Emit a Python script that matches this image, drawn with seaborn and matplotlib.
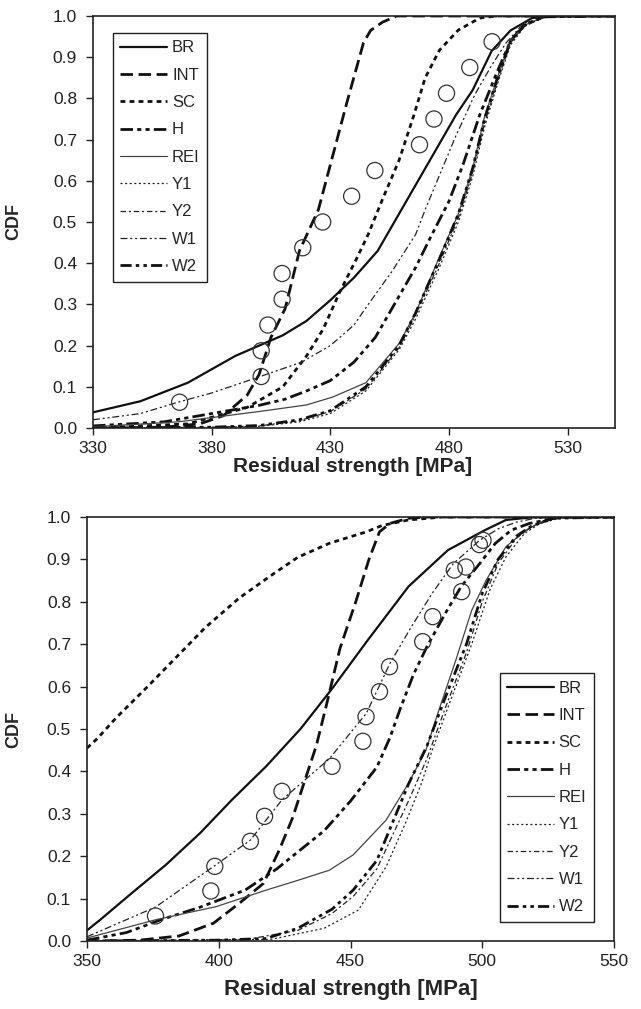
import matplotlib
matplotlib.use("Agg")
import matplotlib.pyplot as plt
import seaborn as sns
import numpy as np

# ---------------- data: top panel ----------------
t_br_x = [330, 350, 370, 390, 400, 410, 420, 430, 440, 450, 455, 463, 470, 476, 483, 490, 498, 506, 515, 525, 550]
t_br_y = [0.038, 0.065, 0.11, 0.175, 0.20, 0.225, 0.26, 0.31, 0.365, 0.43, 0.48, 0.56, 0.63, 0.69, 0.76, 0.82, 0.915, 0.965, 0.995, 1.0, 1.0]

t_int_x = [330, 360, 375, 385, 395, 400, 405, 411, 417, 425, 431, 437, 444, 447, 452, 458, 550]
t_int_y = [0.0, 0.002, 0.01, 0.03, 0.08, 0.13, 0.22, 0.29, 0.43, 0.53, 0.66, 0.79, 0.935, 0.965, 0.985, 1.0, 1.0]

t_sc_x = [330, 370, 395, 410, 420, 427, 434, 441, 446, 452, 459, 465, 470, 476, 484, 493, 500, 550]
t_sc_y = [0.0, 0.01, 0.05, 0.10, 0.175, 0.24, 0.33, 0.41, 0.47, 0.555, 0.65, 0.755, 0.85, 0.917, 0.966, 0.995, 1.0, 1.0]

t_h_x = [330, 360, 380, 400, 411, 420, 430, 440, 449, 459, 466, 472, 480, 486, 493, 500, 506, 512, 520, 530, 550]
t_h_y = [0.005, 0.015, 0.035, 0.055, 0.07, 0.09, 0.115, 0.16, 0.22, 0.32, 0.39, 0.46, 0.55, 0.64, 0.76, 0.86, 0.94, 0.98, 0.998, 1.0, 1.0]

t_rei_x = [330, 366, 400, 420, 431, 445, 459, 466, 476, 484, 490, 495, 501, 506, 512, 520, 550]
t_rei_y = [0.003, 0.015, 0.04, 0.056, 0.075, 0.11, 0.205, 0.28, 0.415, 0.52, 0.63, 0.755, 0.86, 0.94, 0.978, 0.998, 1.0]

t_y1_x = [330, 380, 400, 417, 430, 445, 459, 466, 476, 484, 490, 495, 501, 506, 512, 520, 550]
t_y1_y = [0.0, 0.001, 0.004, 0.015, 0.035, 0.09, 0.19, 0.265, 0.39, 0.50, 0.61, 0.73, 0.845, 0.93, 0.975, 0.997, 1.0]

t_y2_x = [330, 380, 400, 417, 430, 445, 459, 466, 476, 484, 490, 495, 501, 506, 512, 520, 550]
t_y2_y = [0.0, 0.002, 0.005, 0.018, 0.04, 0.095, 0.195, 0.275, 0.40, 0.51, 0.62, 0.74, 0.85, 0.935, 0.977, 0.998, 1.0]

t_w1_x = [330, 350, 366, 380, 400, 418, 430, 440, 446, 456, 466, 470, 483, 491, 498, 504, 510, 515, 525, 550]
t_w1_y = [0.02, 0.035, 0.063, 0.085, 0.124, 0.16, 0.20, 0.25, 0.30, 0.38, 0.47, 0.53, 0.71, 0.81, 0.88, 0.934, 0.973, 0.995, 1.0, 1.0]

t_w2_x = [330, 380, 400, 417, 430, 445, 459, 466, 476, 484, 490, 495, 501, 506, 512, 520, 550]
t_w2_y = [0.0, 0.002, 0.006, 0.02, 0.042, 0.10, 0.20, 0.28, 0.41, 0.52, 0.63, 0.75, 0.86, 0.94, 0.978, 0.998, 1.0]

t_obs_x = [366.5, 400.9, 400.9, 403.7, 409.7, 409.7, 418.4, 426.8, 439.0, 448.8, 467.6, 473.7, 479.0, 488.8, 498.2]
t_obs_y = [0.0625, 0.125, 0.1875, 0.25, 0.3125, 0.375, 0.4375, 0.5, 0.5625, 0.625, 0.6875, 0.75, 0.8125, 0.875, 0.9375]

# ---------------- data: bottom panel ----------------
b_br_x = [350, 355, 367, 380, 393, 405, 418, 431, 443, 456, 472, 487, 501, 509, 520, 550]
b_br_y = [0.025, 0.05, 0.113, 0.18, 0.255, 0.333, 0.412, 0.50, 0.595, 0.705, 0.836, 0.922, 0.969, 0.993, 1.0, 1.0]

b_int_x = [350, 370, 385, 398, 408, 417, 423, 428, 433, 437, 441, 446, 452, 457, 461, 465, 472, 480, 550]
b_int_y = [0.0, 0.002, 0.012, 0.042, 0.09, 0.136, 0.215, 0.29, 0.385, 0.46, 0.56, 0.69, 0.80, 0.90, 0.965, 0.985, 0.997, 1.0, 1.0]

b_sc_x = [350, 354, 361, 373, 384, 395, 408, 421, 430, 442, 456, 462, 472, 485, 550]
b_sc_y = [0.455, 0.478, 0.526, 0.60, 0.67, 0.74, 0.81, 0.867, 0.905, 0.938, 0.965, 0.98, 0.993, 1.0, 1.0]

b_h_x = [350, 365, 378, 393, 410, 422, 431, 440, 450, 460, 465, 469, 474, 479, 486, 492, 499, 505, 511, 518, 530, 550]
b_h_y = [0.002, 0.02, 0.05, 0.08, 0.12, 0.17, 0.215, 0.26, 0.33, 0.41, 0.48, 0.55, 0.63, 0.694, 0.773, 0.836, 0.89, 0.938, 0.969, 0.985, 1.0, 1.0]

b_rei_x = [350, 376, 399, 418, 431, 442, 451, 463.5, 472, 478.6, 484, 490, 496, 501.4, 509, 516.5, 523, 530, 550]
b_rei_y = [0.007, 0.05, 0.081, 0.12, 0.145, 0.167, 0.203, 0.285, 0.372, 0.45, 0.553, 0.663, 0.78, 0.85, 0.93, 0.969, 0.99, 1.0, 1.0]

b_y1_x = [350, 420, 440, 453, 463.5, 471, 477, 481, 488, 496, 503, 509, 516, 522, 530, 550]
b_y1_y = [0.0, 0.004, 0.03, 0.073, 0.175, 0.28, 0.373, 0.45, 0.568, 0.70, 0.83, 0.906, 0.961, 0.985, 0.998, 1.0]

b_y2_x = [350, 410, 430, 443, 451, 460, 466, 472, 479, 486, 494, 500, 506, 513, 519, 527, 550]
b_y2_y = [0.0, 0.003, 0.025, 0.065, 0.105, 0.17, 0.25, 0.33, 0.43, 0.55, 0.68, 0.80, 0.89, 0.95, 0.978, 0.996, 1.0]

b_w1_x = [350, 376, 399, 412, 424, 442, 456, 465, 473, 481, 489, 499, 506, 513, 520, 550]
b_w1_y = [0.01, 0.08, 0.18, 0.238, 0.333, 0.43, 0.537, 0.655, 0.74, 0.82, 0.89, 0.945, 0.972, 0.988, 0.997, 1.0]

b_w2_x = [350, 400, 418, 430, 443, 451, 460, 466, 472, 479, 486, 494, 500, 506, 513, 519, 527, 550]
b_w2_y = [0.0, 0.002, 0.006, 0.03, 0.075, 0.12, 0.19, 0.28, 0.37, 0.46, 0.575, 0.70, 0.82, 0.90, 0.955, 0.98, 0.997, 1.0]

b_obs_x = [376.0, 397.0, 398.5, 412.0, 417.4, 424.0, 443.0, 454.7, 455.9, 461.0, 464.8, 477.4, 481.2, 492.2, 489.4, 493.8, 498.9, 500.3]
b_obs_y = [0.059, 0.118, 0.176, 0.235, 0.294, 0.353, 0.412, 0.471, 0.529, 0.588, 0.647, 0.706, 0.765, 0.824, 0.875, 0.882, 0.935, 0.945]

series_names = ["BR", "INT", "SC", "H", "REI", "Y1", "Y2", "W1", "W2"]
top_ticks = [330, 380, 430, 480, 530]
bot_ticks = [350, 400, 450, 500, 550]
y_ticks = [0.0, 0.1, 0.2, 0.3, 0.4, 0.5, 0.6, 0.7, 0.8, 0.9, 1.0]

top_series = [(t_br_x, t_br_y), (t_int_x, t_int_y), (t_sc_x, t_sc_y), (t_h_x, t_h_y),
              (t_rei_x, t_rei_y), (t_y1_x, t_y1_y), (t_y2_x, t_y2_y), (t_w1_x, t_w1_y), (t_w2_x, t_w2_y)]
bot_series = [(b_br_x, b_br_y), (b_int_x, b_int_y), (b_sc_x, b_sc_y), (b_h_x, b_h_y),
              (b_rei_x, b_rei_y), (b_y1_x, b_y1_y), (b_y2_x, b_y2_y), (b_w1_x, b_w1_y), (b_w2_x, b_w2_y)]

# ---------------- styles ----------------
styles = {
    "BR":  dict(linewidth=1.6, linestyle="-", color="#111111"),
    "INT": dict(linewidth=2.0, linestyle=(0, (9, 4)), color="#111111"),
    "SC":  dict(linewidth=2.0, linestyle=(0, (3.5, 3)), color="#111111"),
    "H":   dict(linewidth=2.0, linestyle=(0, (9, 3, 3, 3, 3, 3)), color="#111111"),
    "REI": dict(linewidth=0.9, linestyle="-", color="#444444"),
    "Y1":  dict(linewidth=0.9, linestyle=(0, (1.5, 1.8)), color="#222222"),
    "Y2":  dict(linewidth=0.9, linestyle=(0, (4, 2, 1.5, 2)), color="#222222"),
    "W1":  dict(linewidth=0.9, linestyle=(0, (5, 2, 1.5, 2, 1.5, 2)), color="#222222"),
    "W2":  dict(linewidth=2.0, linestyle=(0, (8, 3, 2.5, 3, 2.5, 3)), color="#111111"),
}

sns.set_style("ticks")
plt.rcParams["font.family"] = ["Liberation Sans", "DejaVu Sans"]
plt.rcParams["lines.scale_dashes"] = False

fig = plt.figure(figsize=(6.41, 10.09), dpi=100)
ax1 = fig.add_axes([93 / 641, 1 - 428 / 1009, 522 / 641, 412 / 1009])
ax2 = fig.add_axes([87 / 641, 1 - 941 / 1009, 527 / 641, 424 / 1009])


def draw(ax, series, obs_x, obs_y, xticks, xlim):
    for name, (xs, ys) in zip(series_names, series):
        sns.lineplot(x=xs, y=ys, ax=ax, label=name, errorbar=None, **styles[name])
    sns.scatterplot(x=obs_x, y=obs_y, ax=ax, s=135, facecolors="none",
                    edgecolor="#333333", linewidth=0.9, zorder=5, legend=False)
    ax.set_xlim(*xlim)
    ax.set_ylim(0, 1)
    ax.set_xticks(xticks)
    ax.set_xticklabels([str(t) for t in xticks])
    ax.set_yticks(y_ticks)
    ax.set_yticklabels([f"{v:.1f}" for v in y_ticks])
    ax.tick_params(direction="out", length=5, width=1, labelsize=12.5, colors="#222222")
    ax.tick_params(axis="x", pad=4.5)
    ax.tick_params(axis="y", pad=6.5)
    for sp in ax.spines.values():
        sp.set_visible(True)
        sp.set_color("#222222")
        sp.set_linewidth(1.2)
    ax.grid(False)


draw(ax1, top_series, t_obs_x, t_obs_y, top_ticks, (330, 550))
draw(ax2, bot_series, b_obs_x, b_obs_y, bot_ticks, (350, 550))

ax1.set_xlabel("Residual strength [MPa]", fontsize=15, fontweight="bold")
ax1.set_ylabel("CDF", fontsize=13, fontweight="bold")
ax1.xaxis.set_label_coords(0.498, -0.07)
ax1.yaxis.set_label_coords(-0.136, 0.5)

ax2.set_xlabel("Residual strength [MPa]", fontsize=16, fontweight="bold")
ax2.set_ylabel("CDF", fontsize=13, fontweight="bold")
ax2.xaxis.set_label_coords(0.5, -0.09)
ax2.yaxis.set_label_coords(-0.123, 0.5)

leg_kw = dict(fontsize=12, frameon=True, fancybox=False, shadow=False, framealpha=1,
              edgecolor="#222222", handlelength=2.8, handletextpad=0.3,
              labelspacing=0.74, borderpad=0.45, borderaxespad=0)
lg1 = ax1.legend(loc="upper left", bbox_to_anchor=(0.038, 0.959), **leg_kw)
lg2 = ax2.legend(loc="lower right", bbox_to_anchor=(0.962, 0.045), **leg_kw)
for lg in (lg1, lg2):
    lg.get_frame().set_linewidth(1.0)

fig.savefig("out.png", dpi=100, facecolor="white")
